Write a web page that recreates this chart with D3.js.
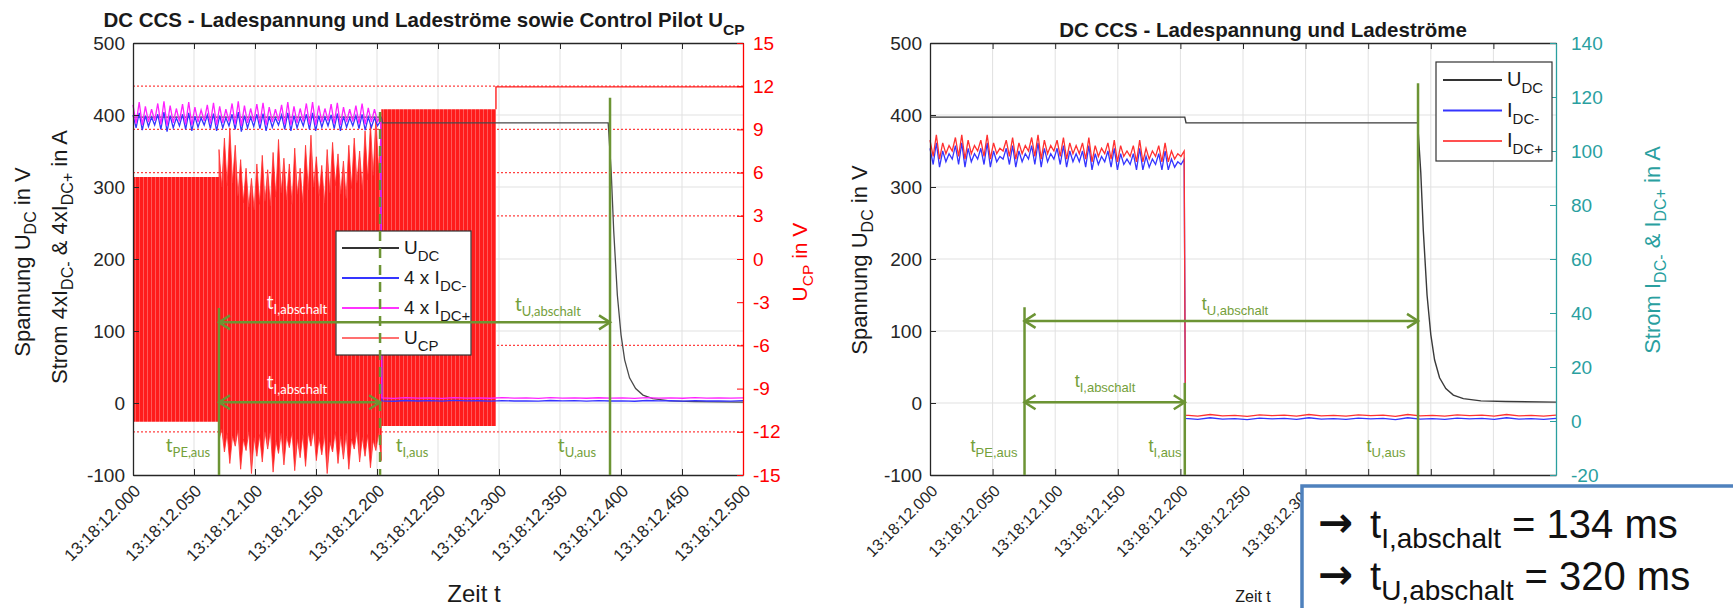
<!DOCTYPE html>
<meta charset="utf-8">
<script src="https://d3js.org/d3.v7.min.js"></script>
<style>
  body { margin: 0; background: #fff; }
  svg text { font-family: "Liberation Sans", Arial, Helvetica, sans-serif; white-space: pre; }
</style>
<div id="my_dataviz"></div>
<script>
// ---- values (time in s after 13:18:12.000) ----
var timeTicks = [0, 0.05, 0.1, 0.15, 0.2, 0.25, 0.3, 0.35, 0.4, 0.45, 0.5];
var timeLabels = ["13:18:12.000", "13:18:12.050", "13:18:12.100", "13:18:12.150", "13:18:12.200", "13:18:12.250",
                  "13:18:12.300", "13:18:12.350", "13:18:12.400", "13:18:12.450", "13:18:12.500"];
var voltTicks = [-100, 0, 100, 200, 300, 400, 500];
var cpTicks = [-15, -12, -9, -6, -3, 0, 3, 6, 9, 12, 15];
var ampTicks = [-20, 0, 20, 40, 60, 80, 100, 120, 140];
var cpRefLevels = [12, 9, 6, 3, -6, -12];   // red dotted levels

// U_DC, same trace in both plots
var udcTime = [0, 0.2035, 0.2045, 0.3895, 0.392, 0.394, 0.397, 0.400, 0.403, 0.407, 0.412, 0.418, 0.426, 0.44, 0.46, 0.5];
var udcVolt = [397, 397, 389, 389, 320, 240, 150, 95, 60, 35, 20, 11, 6, 3, 2, 1.2];

// currents while charging (0 .. rippleEnd) and after switch-off (afterStart .. 0.5)
var rippleEnd = 0.203, afterStart = 0.204;
var ripple4xIplus = [414,388,418,386,412,390,408,392,416,387,419,385,413,389,409,391,415,387,418,386,411,390,407,392,414,388,417,386,412,389,408,391,416,387,419,385,413,389,409,391,415,388,417,386,411,390,408,392,414,387,418,386,412,389,409,391,416,387,418,386,413,390,409,392,415,388,417,386,411,390,408,391,413,388,416,387,410,390,408,391,400];
var ripple4xIminus = [400,382,403,379,399,384,397,386,401,380,404,377,399,382,396,385,401,380,403,378,398,383,396,386,400,381,402,378,399,382,396,385,401,380,404,377,399,382,397,384,401,381,402,378,398,383,396,386,400,380,403,378,399,382,396,385,401,380,403,378,399,383,397,385,400,381,402,378,398,383,396,385,399,381,401,379,397,383,396,385,392];
var after4xIplus = [7,6.5,7.5,6.8,7.2,6.4,7.6,6.9,7.1,6.6,7.4,6.8,7.0,6.5,7.5,6.9,7.2,6.6,7.3,6.8,7.0,6.4,7.5,6.9,7.1,6.6,7.4,6.8,7.0,6.7,7.2];
var after4xIminus = [3,2.4,3.5,2.8,3.2,2.5,3.6,2.9,3.1,2.6,3.4,2.8,3.0,2.5,3.5,2.9,3.2,2.6,3.3,2.8,3.0,2.4,3.5,2.9,3.1,2.6,3.4,2.8,3.0,2.7,3.2];
var rippleIplus = [104,98,106,97,103,99,102,100,105,98,106,97,104,99,102,100,104,98,106,97,103,99,101,100,104,98,105,97,103,99,102,100,105,98,106,97,104,99,102,100,104,98,105,97,103,99,102,99,103,97,105,96,102,98,101,99,103,97,104,96,102,98,100,98,102,96,104,96,101,97,100,98,102,96,103,96,100,97,99,98,100];
var rippleIminus = [101,95,103,94,100,96,99,97,102,95,103,94,101,96,99,97,101,95,103,94,100,96,98,97,101,95,102,94,100,96,99,97,102,95,103,94,101,96,99,97,101,95,102,94,100,96,99,96,100,94,102,93,99,95,98,96,100,94,101,93,99,95,97,95,99,93,101,93,98,94,97,95,99,93,100,93,97,94,96,95,97];
var afterIplus = [2.2,1.8,2.4,1.9,2.1,1.7,2.3,2.0,2.2,1.8,2.4,1.9,2.1,1.8,2.3,2.0,2.2,1.7,2.4,1.9,2.1,1.8,2.3,2.0,2.2,1.8,2.4,1.9,2.1,1.8,2.2];
var afterIminus = [1.0,0.6,1.2,0.7,0.9,0.5,1.1,0.8,1.0,0.6,1.2,0.7,0.9,0.6,1.1,0.8,1.0,0.5,1.2,0.7,0.9,0.6,1.1,0.8,1.0,0.6,1.2,0.7,0.9,0.6,1.0];

// control pilot: PWM blocks (envelope), noisy part, idle level
var cpBlockStart = [0, 0.2035];
var cpBlockEnd = [0.0705, 0.2975];
var cpBlockHigh = [5.7, 10.4];
var cpBlockLow = [-11.3, -11.6];
var cpNoiseStart = 0.0705, cpNoiseEnd = 0.2035;
var cpNoiseHigh = [7.6,5.0,8.4,5.1,9.1,5.3,7.9,4.4,6.9,3.9,6.3,3.6,5.6,3.4,6.6,3.8,7.2,4.0,6.2,3.7,7.4,4.3,8.3,4.6,7.0,4.1,6.6,3.8,7.7,4.5,6.3,3.9,7.9,4.8,8.6,5.0,7.1,4.4,6.5,3.9,7.6,4.6,8.1,5.1,7.3,4.5,6.8,4.2,7.9,4.9,8.4,5.3,7.5,4.8,8.9,5.5,9.4,5.8,9.8,6.2,9.0];
var cpNoiseLow = [-12.6,-11.8,-13.4,-12.1,-14.2,-12.3,-13.0,-11.9,-14.6,-12.5,-13.3,-12.0,-14.9,-12.4,-13.7,-12.2,-14.1,-12.0,-13.2,-11.9,-14.8,-12.6,-13.5,-12.1,-14.3,-12.3,-13.1,-12.0,-14.7,-12.5,-13.8,-12.2,-14.4,-12.1,-13.0,-11.9,-14.0,-12.4,-13.6,-12.2,-14.9,-12.7,-13.4,-12.0,-14.2,-12.3,-13.9,-12.1,-14.6,-12.5,-13.2,-12.0,-14.1,-12.4,-13.7,-12.2,-14.5,-12.6,-13.3,-12.1,-14.0];
var cpIdle = 11.95;

// switch-off instants marked in each plot: PE aus, I aus, U aus
var markLeft = [0.0705, 0.2025, 0.391];
var markRight = [0.0755, 0.2035, 0.3898];
var resultNames = ["I,abschalt", "U,abschalt"];
var resultMs = [134, 320];

// ---- drawing ----
var FONT = '"Liberation Sans", Arial, Helvetica, sans-serif';
var green = "#6c9434", greenText = "#74a03a", teal = "#2a9f9f";
var plotTop = 43, plotBottom = 475;

var svg = d3.select("#my_dataviz").append("svg")
    .attr("width", 1733).attr("height", 608);

var pat = svg.append("defs").append("pattern")
    .attr("id", "cpFill").attr("patternUnits", "userSpaceOnUse")
    .attr("width", 4).attr("height", 8);
pat.append("rect").attr("width", 4).attr("height", 8).attr("fill", "#ff1c1c");
pat.append("rect").attr("x", 3).attr("width", 1).attr("height", 8).attr("fill", "#ff8a8a").attr("opacity", 0.55);

var xL = d3.scaleLinear().domain([0, 0.5]).range([133, 743]);
var xR = d3.scaleLinear().domain([0, 0.5]).range([930, 1556]);
var yV = d3.scaleLinear().domain([-100, 500]).range([plotBottom, plotTop]);
var yCP = d3.scaleLinear().domain([-15, 15]).range([plotBottom, plotTop]);
var yA = d3.scaleLinear().domain([-20, 140]).range([plotBottom, plotTop]);

// text with subscripts: parts starting with "_" are lowered
function rich(parent, parts, size, subSize, shift) {
  var t = parent.append("text");
  var cur = 0;
  parts.forEach(function (p) {
    var sub = p[0] === "_";
    var target = sub ? shift : 0;
    t.append("tspan")
      .attr("dy", target - cur)
      .style("font-size", (sub ? subSize : size) + "px")
      .text(sub ? p.slice(1) : p);
    cur = target;
  });
  return t;
}

function grid(x) {
  var g = svg.append("g");
  g.selectAll("line.v").data(timeTicks.slice(1, -1)).enter().append("line")
      .attr("x1", function (d) { return x(d); }).attr("x2", function (d) { return x(d); })
      .attr("y1", plotTop).attr("y2", plotBottom)
      .attr("stroke", "#e1e1e1");
  g.selectAll("line.h").data(voltTicks.slice(1, -1)).enter().append("line")
      .attr("x1", x.range()[0]).attr("x2", x.range()[1])
      .attr("y1", function (d) { return yV(d); }).attr("y2", function (d) { return yV(d); })
      .attr("stroke", "#e1e1e1");
}

function axes(x, yRight, rightTicks, rightColor, xFont, rightPad) {
  var g = svg.append("g").attr("color", "#262626");
  var fmt = function (d) { return String(d); };
  var xb = g.append("g").attr("transform", "translate(0," + plotBottom + ")")
    .call(d3.axisBottom(x).tickValues(timeTicks).tickFormat(function (d, i) { return timeLabels[i]; })
      .tickSize(-6).tickSizeOuter(0));
  xb.selectAll("text").attr("y", 0).attr("dy", 0).attr("text-anchor", "end")
    .attr("transform", "translate(8,17) rotate(-45)");
  xb.attr("font-family", FONT).attr("font-size", xFont);
  g.append("g").attr("transform", "translate(0," + plotTop + ")")
    .call(d3.axisTop(x).tickValues(timeTicks).tickFormat("").tickSize(-6).tickSizeOuter(0));
  g.append("g").attr("transform", "translate(" + x.range()[0] + ",0)")
    .call(d3.axisLeft(yV).tickValues(voltTicks).tickFormat(fmt).tickSize(-6).tickSizeOuter(0).tickPadding(8))
    .attr("font-family", FONT).attr("font-size", 19);
  g.append("g").attr("transform", "translate(" + x.range()[1] + ",0)")
    .attr("color", rightColor)
    .call(d3.axisRight(yRight).tickValues(rightTicks).tickFormat(fmt).tickSize(-6).tickSizeOuter(0).tickPadding(rightPad))
    .attr("font-family", FONT).attr("font-size", 19);
  g.selectAll(".domain").attr("stroke-width", 1.3);
}

function series(ripple, after) {
  var n = ripple.length, m = after.length;
  var pts = ripple.map(function (v, i) { return [rippleEnd * i / (n - 1), v]; });
  return pts.concat(after.map(function (v, i) { return [afterStart + (0.5 - afterStart) * i / (m - 1), v]; }));
}

function udcPoints() {
  return udcTime.map(function (t, i) { return [t, udcVolt[i]]; });
}

function arrowHead(g, x, y, dir) {
  g.append("path")
    .attr("d", "M" + (x - dir * 11) + "," + (y - 7) + "L" + x + "," + y + "L" + (x - dir * 11) + "," + (y + 7))
    .attr("fill", "none").attr("stroke", green).attr("stroke-width", 2.5);
}

function vline(g, x, y1, dash) {
  g.append("line").attr("x1", x).attr("x2", x).attr("y1", y1).attr("y2", plotBottom)
    .attr("stroke", green).attr("stroke-width", 2.5).attr("stroke-dasharray", dash || null);
}

function hArrow(g, x1, x2, y) {
  g.append("line").attr("x1", x1).attr("x2", x2).attr("y1", y).attr("y2", y)
    .attr("stroke", green).attr("stroke-width", 2.5);
  arrowHead(g, x1, y, -1);
  arrowHead(g, x2, y, 1);
}

// ================= left plot =================
grid(xL);

var gL = svg.append("g");
gL.selectAll("line.cp").data(cpRefLevels).enter().append("line")
    .attr("x1", xL(0)).attr("x2", xL(0.5))
    .attr("y1", function (d) { return yCP(d); }).attr("y2", function (d) { return yCP(d); })
    .attr("stroke", "#ff4040").attr("stroke-width", 1.3).attr("stroke-dasharray", "2,2");

var cpArea = d3.area().x(function (d) { return xL(d[0]); })
    .y0(function (d) { return yCP(d[2]); }).y1(function (d) { return yCP(d[1]); });
cpBlockStart.forEach(function (t0, i) {
  gL.append("path")
    .datum([[t0, cpBlockHigh[i], cpBlockLow[i]], [cpBlockEnd[i], cpBlockHigh[i], cpBlockLow[i]]])
    .attr("d", cpArea).attr("fill", "url(#cpFill)");
});
var hiPts = cpNoiseHigh.map(function (v, i) {
  return [xL(cpNoiseStart + (cpNoiseEnd - cpNoiseStart) * i / (cpNoiseHigh.length - 1)), yCP(v)];
});
var loPts = cpNoiseLow.map(function (v, i) {
  return [xL(cpNoiseStart + (cpNoiseEnd - cpNoiseStart) * i / (cpNoiseLow.length - 1)), yCP(v)];
});
gL.append("path")
  .attr("d", d3.line()(hiPts.concat(loPts.reverse())) + "Z")
  .attr("fill", "url(#cpFill)").attr("stroke", "#ff3030").attr("stroke-width", 0.8);
gL.append("path")
  .datum([[cpBlockEnd[1], cpBlockHigh[1]], [cpBlockEnd[1], cpIdle], [0.5, cpIdle]])
  .attr("d", d3.line().x(function (d) { return xL(d[0]); }).y(function (d) { return yCP(d[1]); }))
  .attr("fill", "none").attr("stroke", "#ff2020").attr("stroke-width", 1.4);

var lineL = d3.line().x(function (d) { return xL(d[0]); }).y(function (d) { return yV(d[1]); });
gL.append("path").datum(udcPoints()).attr("d", lineL)
  .attr("fill", "none").attr("stroke", "#4a4a4a").attr("stroke-width", 1.3);
gL.append("path").datum(series(ripple4xIminus, after4xIminus)).attr("d", lineL)
  .attr("fill", "none").attr("stroke", "#3535ff").attr("stroke-width", 1.3);
gL.append("path").datum(series(ripple4xIplus, after4xIplus)).attr("d", lineL)
  .attr("fill", "none").attr("stroke", "#ff22ff").attr("stroke-width", 1.3);

axes(xL, yCP, cpTicks, "#ff0000", 17, 10);

// legend left
var lg = svg.append("g");
lg.append("rect").attr("x", 336).attr("y", 231).attr("width", 135).attr("height", 124)
  .attr("fill", "#fff").attr("stroke", "#333").attr("stroke-width", 1.2);
var legL = [["U", "_DC"], ["4 x I", "_DC-"], ["4 x I", "_DC+"], ["U", "_CP"]];
var legLColors = ["#333333", "#3535ff", "#ff33ff", "#ff7070"];
legL.forEach(function (p, i) {
  var y = 248 + i * 30;
  lg.append("line").attr("x1", 342).attr("x2", 399).attr("y1", y).attr("y2", y)
    .attr("stroke", legLColors[i]).attr("stroke-width", 2);
  rich(lg, p, 19, 15, 7).attr("x", 404).attr("y", y + 6).attr("fill", "#1a1a1a");
});

// switch-off annotations left
var aL = svg.append("g");
var xPE = xL(markLeft[0]), xI = xL(markLeft[1]), xU = xL(markLeft[2]);
vline(aL, xPE, yV(132));
vline(aL, xI, yV(404), "10,7");
vline(aL, xU, yV(424));
hArrow(aL, xPE, xU, yV(112));
hArrow(aL, xPE, xI, yV(1));
rich(aL, ["t", "_I,abschalt"], 19, 13, 5).attr("x", 297).attr("y", 309).attr("text-anchor", "middle")
  .attr("fill", "#fff").style("font-family", "Lato, sans-serif");
rich(aL, ["t", "_I,abschalt"], 19, 13, 5).attr("x", 297).attr("y", 389).attr("text-anchor", "middle")
  .attr("fill", "#fff").style("font-family", "Lato, sans-serif");
rich(aL, ["t", "_U,abschalt"], 19, 13, 5).attr("x", 548).attr("y", 311).attr("text-anchor", "middle")
  .attr("fill", greenText).style("font-family", "Lato, sans-serif");
[["t", "_PE,aus"], ["t", "_I,aus"], ["t", "_U,aus"]].forEach(function (p, i) {
  rich(aL, p, 19, 13, 5).attr("x", [188, 412, 577][i]).attr("y", 452).attr("text-anchor", "middle")
    .attr("fill", greenText).style("font-family", "Lato, sans-serif");
});

// titles and axis labels left
rich(svg, ["DC CCS - Ladespannung und Ladeströme sowie Control Pilot U", "_CP"], 20.5, 15.5, 8)
  .attr("x", 424).attr("y", 27).attr("text-anchor", "middle").attr("font-weight", "bold").attr("fill", "#1a1a1a");
rich(svg.append("g").attr("transform", "translate(30,262) rotate(-90)"), ["Spannung U", "_DC", " in V"], 22, 16, 6)
  .attr("text-anchor", "middle").attr("fill", "#1a1a1a");
rich(svg.append("g").attr("transform", "translate(67,257) rotate(-90)"),
  ["Strom 4xI", "_DC-", " & 4xI", "_DC+", " in A"], 22, 16, 6)
  .attr("text-anchor", "middle").attr("fill", "#1a1a1a");
rich(svg.append("g").attr("transform", "translate(807,262) rotate(-90)"), ["U", "_CP", " in V"], 21, 15.5, 6)
  .attr("text-anchor", "middle").attr("fill", "#ff0000");
svg.append("text").attr("x", 474).attr("y", 602).attr("text-anchor", "middle")
  .style("font-size", "24px").attr("fill", "#1a1a1a").text("Zeit t");

// ================= right plot =================
grid(xR);
var gR = svg.append("g");
var lineRV = d3.line().x(function (d) { return xR(d[0]); }).y(function (d) { return yV(d[1]); });
var lineRA = d3.line().x(function (d) { return xR(d[0]); }).y(function (d) { return yA(d[1]); });
gR.append("path").datum(udcPoints()).attr("d", lineRV)
  .attr("fill", "none").attr("stroke", "#3a3a3a").attr("stroke-width", 1.4);
gR.append("path").datum(series(rippleIminus, afterIminus)).attr("d", lineRA)
  .attr("fill", "none").attr("stroke", "#3535ff").attr("stroke-width", 1.3);
gR.append("path").datum(series(rippleIplus, afterIplus)).attr("d", lineRA)
  .attr("fill", "none").attr("stroke", "#ff3030").attr("stroke-width", 1.3);

axes(xR, yA, ampTicks, teal, 16, 15);

var lgR = svg.append("g");
lgR.append("rect").attr("x", 1436).attr("y", 62).attr("width", 116).attr("height", 99)
  .attr("fill", "#fff").attr("stroke", "#333").attr("stroke-width", 1.2);
var legR = [["U", "_DC"], ["I", "_DC-"], ["I", "_DC+"]];
var legRColors = ["#333333", "#3535ff", "#ff5050"];
legR.forEach(function (p, i) {
  var y = 80 + i * 30.5;
  lgR.append("line").attr("x1", 1443).attr("x2", 1502).attr("y1", y).attr("y2", y)
    .attr("stroke", legRColors[i]).attr("stroke-width", 1.8);
  rich(lgR, p, 20, 15, 7).attr("x", 1507).attr("y", y + 6).attr("fill", "#1a1a1a");
});

var aR = svg.append("g");
var rPE = xR(markRight[0]), rI = xR(markRight[1]), rU = xR(markRight[2]);
vline(aR, rPE, yV(133));
vline(aR, rI, yV(28));
vline(aR, rU, yV(444));
hArrow(aR, rPE, rU, yV(114));
hArrow(aR, rPE, rI, yV(1));
rich(aR, ["t", "_U,abschalt"], 18, 13, 5).attr("x", 1235).attr("y", 310).attr("text-anchor", "middle").attr("fill", greenText);
rich(aR, ["t", "_I,abschalt"], 18, 13, 5).attr("x", 1105).attr("y", 387).attr("text-anchor", "middle").attr("fill", greenText);
[["t", "_PE,aus"], ["t", "_I,aus"], ["t", "_U,aus"]].forEach(function (p, i) {
  rich(aR, p, 18, 13, 5).attr("x", [994, 1165, 1386][i]).attr("y", 452).attr("text-anchor", "middle").attr("fill", greenText);
});

rich(svg, ["DC CCS - Ladespannung und Ladeströme"], 20.5, 15.5, 8)
  .attr("x", 1263).attr("y", 37).attr("text-anchor", "middle").attr("font-weight", "bold").attr("fill", "#1a1a1a");
rich(svg.append("g").attr("transform", "translate(867,260) rotate(-90)"), ["Spannung U", "_DC", " in V"], 22, 16, 6)
  .attr("text-anchor", "middle").attr("fill", "#1a1a1a");
rich(svg.append("g").attr("transform", "translate(1660,250) rotate(-90)"),
  ["Strom I", "_DC-", " & I", "_DC+", " in A"], 22, 16, 6)
  .attr("text-anchor", "middle").attr("fill", teal);
svg.append("text").attr("x", 1253).attr("y", 602).attr("text-anchor", "middle")
  .style("font-size", "16px").attr("fill", "#1a1a1a").text("Zeit t");

// ---- result box ----
var box = svg.append("g");
box.append("rect").attr("x", 1302).attr("y", 486).attr("width", 445).attr("height", 135)
  .attr("fill", "#fff").attr("stroke", "#4f81bd").attr("stroke-width", 3.5);
resultNames.forEach(function (name, i) {
  var y = [538, 590][i];
  box.append("text").attr("x", 1318).attr("y", y - 1)
    .style("font-family", "'DejaVu Sans', sans-serif").style("font-size", "42px").attr("font-weight", "bold")
    .attr("fill", "#111").text("→");
  rich(box, ["t", "_" + name, " = " + resultMs[i] + " ms"], 40, 28, 10)
    .attr("x", 1370).attr("y", y).attr("fill", "#111");
});
</script>
